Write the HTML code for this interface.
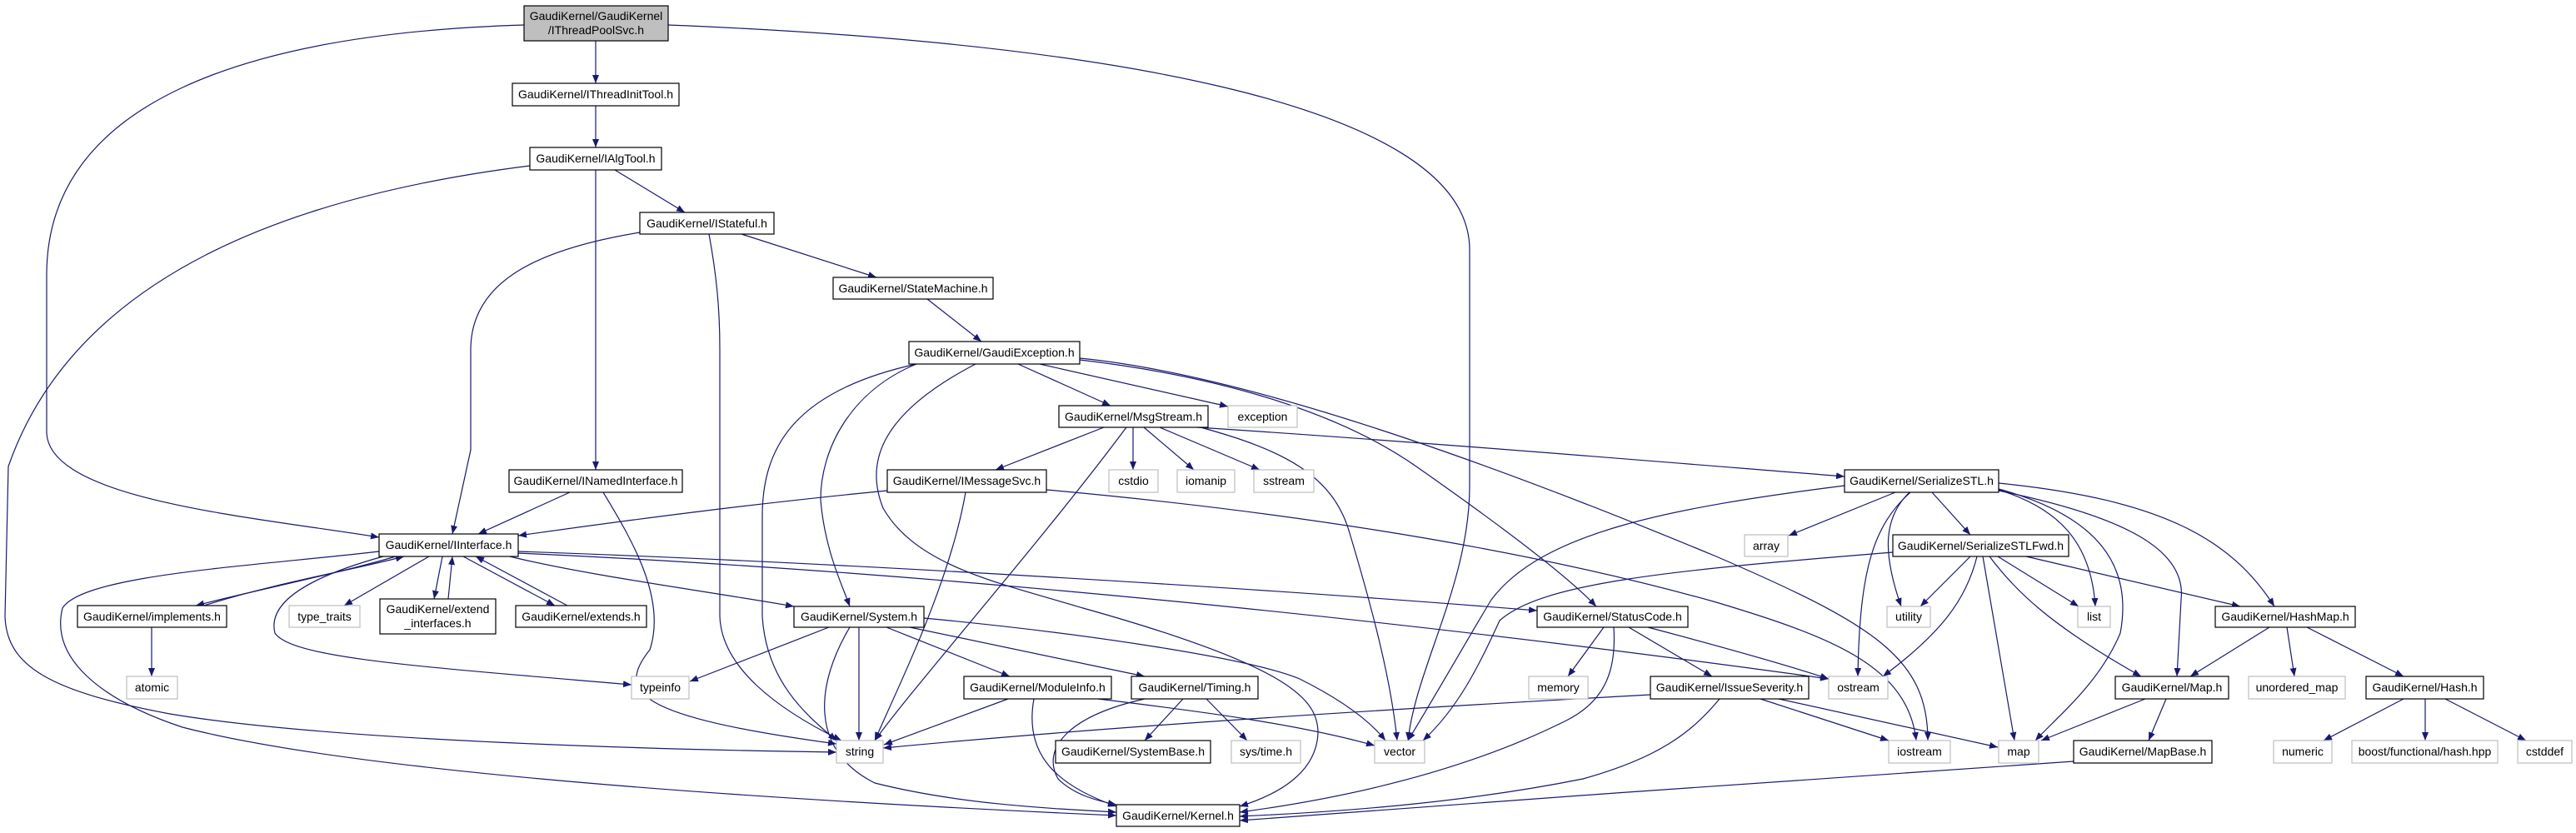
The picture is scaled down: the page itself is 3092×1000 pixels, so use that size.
<!DOCTYPE html>
<html><head><meta charset="utf-8"><style>
html,body{margin:0;padding:0;background:#fff}
svg{display:block}
text{font-family:"Liberation Sans",Arial,sans-serif;font-size:14px;fill:#000}
.e{fill:none;stroke:#191970;stroke-width:1.2;marker-end:url(#a)}
.n{fill:#fff;stroke:#000;stroke-width:1.2}
.g{fill:#fff;stroke:#bfbfbf;stroke-width:1.2}
</style></head><body>
<svg width="3092" height="1000" viewBox="0 0 3092 1000" xmlns="http://www.w3.org/2000/svg">
<defs><marker id="a" markerWidth="10" markerHeight="8" refX="10" refY="4" orient="auto" markerUnits="userSpaceOnUse"><path d="M0,0 L10,4 L0,8 z" fill="#191970"/></marker></defs>
<g>
<path class="e" d="M715,49 L715,100"/>
<path class="e" d="M629,30 C300,40 56,120 56,330 L56,520 C60,600 300,620 455,645"/>
<path class="e" d="M802,30 C1300,50 1764,120 1764,300 L1764,583 C1764,700 1700,800 1690,889"/>
<path class="e" d="M715,127 L715,177"/>
<path class="e" d="M738,204 L822,255"/>
<path class="e" d="M715,204 L715,564"/>
<path class="e" d="M636,199 C350,235 90,330 10,560 L6,740 C8,800 60,830 204,857 C400,890 800,900 1004,903"/>
<path class="e" d="M768,279 C640,300 565,340 565,420 L565,540 L543,641"/>
<path class="e" d="M851,281 C860,330 864,370 864,420 L864,740 C866,800 930,850 1010,889"/>
<path class="e" d="M890,281 L1052,333"/>
<path class="e" d="M1113,359 L1178,410"/>
<path class="e" d="M1222,437 L1333,487"/>
<path class="e" d="M1248,437 L1474,488"/>
<path class="e" d="M1100,437 C1020,470 985,540 985,600 C990,660 1010,700 1020,728"/>
<path class="e" d="M1100,437 C950,470 915,540 915,620 L915,740 C920,820 970,860 1004,889"/>
<path class="e" d="M1171,437 C1050,500 1040,560 1060,610 C1100,680 1200,700 1300,730 C1550,800 1582,840 1582,880 C1580,930 1530,955 1488,968"/>
<path class="e" d="M1296,432 C1450,450 1600,490 1700,560 C1800,630 1880,690 1916,728"/>
<path class="e" d="M1296,430 C1500,450 1800,560 2060,668 C2250,750 2314,790 2314,889"/>
<path class="e" d="M1325,513 L1195,564"/>
<path class="e" d="M1360,513 L1360,564"/>
<path class="e" d="M1373,513 L1433,564"/>
<path class="e" d="M1392,513 L1512,564"/>
<path class="e" d="M1352,513 C1250,650 1100,820 1050,889"/>
<path class="e" d="M1441,513 C1540,540 1600,570 1620,640 C1650,740 1670,820 1677,889"/>
<path class="e" d="M1437,513 C1700,530 2000,555 2214,572"/>
<path class="e" d="M1065,589 C900,605 750,625 622,643"/>
<path class="e" d="M1159,591 C1140,700 1080,820 1050,889"/>
<path class="e" d="M1256,588 C1500,610 1800,650 2060,723 C2200,765 2290,800 2300,889"/>
<path class="e" d="M475,668 C400,690 300,710 235,727"/>
<path class="e" d="M245,727 C330,700 420,685 485,668"/>
<path class="e" d="M460,668 C380,690 320,720 330,760 C350,790 500,800 758,822"/>
<path class="e" d="M515,668 L413,727"/>
<path class="e" d="M531,668 L521,719"/>
<path class="e" d="M538,719 L543,668"/>
<path class="e" d="M556,668 L666,727"/>
<path class="e" d="M681,727 L571,668"/>
<path class="e" d="M612,668 C700,690 850,710 953,728"/>
<path class="e" d="M622,662 C1000,675 1500,705 1845,733"/>
<path class="e" d="M622,664 C1200,690 1800,760 2195,815"/>
<path class="e" d="M455,662 C300,680 100,690 75,730 C60,790 120,840 219,873 C400,920 800,955 1340,979"/>
<path class="e" d="M182,753 L182,812"/>
<path class="e" d="M684,591 L574,641"/>
<path class="e" d="M724,591 C760,650 800,720 780,780 C740,830 760,860 1004,893"/>
<path class="e" d="M995,753 L828,818"/>
<path class="e" d="M1031,753 L1031,889"/>
<path class="e" d="M1020,753 C980,820 970,900 1050,940 C1150,965 1250,970 1340,975"/>
<path class="e" d="M1064,753 L1212,812"/>
<path class="e" d="M1092,753 L1374,812"/>
<path class="e" d="M1109,742 C1300,760 1500,790 1560,815 C1600,835 1640,860 1663,889"/>
<path class="e" d="M1210,839 L1061,894"/>
<path class="e" d="M1241,839 C1230,900 1260,940 1340,968"/>
<path class="e" d="M1318,839 C1450,855 1560,870 1650,895"/>
<path class="e" d="M1420,839 L1374,889"/>
<path class="e" d="M1448,839 L1497,889"/>
<path class="e" d="M1374,839 C1280,860 1250,900 1270,935 C1290,955 1320,962 1340,966"/>
<path class="e" d="M1981,834 C1600,855 1300,875 1060,898"/>
<path class="e" d="M1925,753 L1882,812"/>
<path class="e" d="M1955,753 L2055,812"/>
<path class="e" d="M1978,753 C2080,780 2150,800 2195,815"/>
<path class="e" d="M1937,753 C1940,800 1930,840 1880,865 C1750,930 1600,960 1488,975"/>
<path class="e" d="M2113,839 L2267,889"/>
<path class="e" d="M2135,839 L2398,897"/>
<path class="e" d="M2064,839 C2030,880 1990,910 1900,935 C1750,965 1600,975 1488,980"/>
<path class="e" d="M2275,591 L2147,643"/>
<path class="e" d="M2319,591 L2365,642"/>
<path class="e" d="M2292,591 C2262,620 2258,660 2282,728"/>
<path class="e" d="M2293,591 C2250,630 2232,680 2230,812"/>
<path class="e" d="M2214,583 C2000,610 1850,640 1790,720 C1760,770 1720,840 1690,889"/>
<path class="e" d="M2399,588 C2470,610 2510,650 2515,728"/>
<path class="e" d="M2399,587 C2520,620 2560,680 2545,760 C2520,820 2470,860 2443,889"/>
<path class="e" d="M2399,589 C2550,620 2625,660 2618,720 L2613,812"/>
<path class="e" d="M2399,580 C2600,600 2680,650 2730,728"/>
<path class="e" d="M2365,668 L2305,728"/>
<path class="e" d="M2398,668 L2495,728"/>
<path class="e" d="M2373,668 C2360,720 2330,760 2260,812"/>
<path class="e" d="M2380,668 L2418,889"/>
<path class="e" d="M2388,668 C2420,710 2460,750 2570,812"/>
<path class="e" d="M2432,668 L2689,728"/>
<path class="e" d="M2272,663 C2000,685 1850,700 1800,745 C1775,800 1750,850 1708,889"/>
<path class="e" d="M2724,753 L2629,812"/>
<path class="e" d="M2745,753 L2754,812"/>
<path class="e" d="M2769,753 L2885,812"/>
<path class="e" d="M2575,839 L2450,889"/>
<path class="e" d="M2600,839 L2579,889"/>
<path class="e" d="M2489,914 C2200,935 1800,960 1488,985"/>
<path class="e" d="M2885,839 L2789,889"/>
<path class="e" d="M2911,839 L2911,889"/>
<path class="e" d="M2935,839 L3032,889"/>
</g>
<g>
<rect x="629" y="7" width="173" height="42" fill="#bfbfbf" stroke="#000" stroke-width="1.2"/>
<text x="715.5" y="24" text-anchor="middle">GaudiKernel/GaudiKernel</text>
<text x="715.5" y="41" text-anchor="middle">/IThreadPoolSvc.h</text>
<rect class="n" x="615" y="100" width="200" height="27"/><text x="715" y="118" text-anchor="middle">GaudiKernel/IThreadInitTool.h</text>
<rect class="n" x="636" y="177" width="158" height="27"/><text x="715" y="195" text-anchor="middle">GaudiKernel/IAlgTool.h</text>
<rect class="n" x="768" y="255" width="161" height="26"/><text x="848.5" y="273" text-anchor="middle">GaudiKernel/IStateful.h</text>
<rect class="n" x="1000" y="333" width="192" height="26"/><text x="1096" y="351" text-anchor="middle">GaudiKernel/StateMachine.h</text>
<rect class="n" x="1091" y="410" width="205" height="27"/><text x="1193.5" y="428" text-anchor="middle">GaudiKernel/GaudiException.h</text>
<rect class="n" x="1271" y="487" width="179" height="26"/><text x="1360.5" y="505" text-anchor="middle">GaudiKernel/MsgStream.h</text>
<rect class="g" x="1474" y="487" width="83" height="26"/><text x="1515.5" y="505" text-anchor="middle">exception</text>
<rect class="n" x="611" y="564" width="208" height="27"/><text x="715" y="582" text-anchor="middle">GaudiKernel/INamedInterface.h</text>
<rect class="n" x="1065" y="564" width="191" height="27"/><text x="1160.5" y="582" text-anchor="middle">GaudiKernel/IMessageSvc.h</text>
<rect class="g" x="1331" y="564" width="59" height="27"/><text x="1360.5" y="582" text-anchor="middle">cstdio</text>
<rect class="g" x="1413" y="564" width="69" height="27"/><text x="1447.5" y="582" text-anchor="middle">iomanip</text>
<rect class="g" x="1505" y="564" width="72" height="27"/><text x="1541" y="582" text-anchor="middle">sstream</text>
<rect class="n" x="2214" y="564" width="185" height="27"/><text x="2306.5" y="582" text-anchor="middle">GaudiKernel/SerializeSTL.h</text>
<rect class="n" x="455" y="641" width="167" height="27"/><text x="538.5" y="659" text-anchor="middle">GaudiKernel/IInterface.h</text>
<rect class="g" x="2094" y="642" width="52" height="26"/><text x="2120" y="660" text-anchor="middle">array</text>
<rect class="n" x="2272" y="642" width="211" height="26"/><text x="2377.5" y="660" text-anchor="middle">GaudiKernel/SerializeSTLFwd.h</text>
<rect class="n" x="93" y="727" width="179" height="26"/><text x="182.5" y="745" text-anchor="middle">GaudiKernel/implements.h</text>
<rect class="g" x="347" y="727" width="85" height="26"/><text x="389.5" y="745" text-anchor="middle">type_traits</text>
<rect class="n" x="456" y="719" width="139" height="42"/><text x="525.5" y="736" text-anchor="middle">GaudiKernel/extend</text><text x="525.5" y="753" text-anchor="middle">_interfaces.h</text>
<rect class="n" x="619" y="727" width="157" height="26"/><text x="697.5" y="745" text-anchor="middle">GaudiKernel/extends.h</text>
<rect class="n" x="953" y="728" width="156" height="25"/><text x="1031" y="745" text-anchor="middle">GaudiKernel/System.h</text>
<rect class="n" x="1845" y="728" width="181" height="25"/><text x="1935.5" y="745" text-anchor="middle">GaudiKernel/StatusCode.h</text>
<rect class="g" x="2265" y="728" width="52" height="25"/><text x="2291" y="745" text-anchor="middle">utility</text>
<rect class="g" x="2494" y="728" width="39" height="25"/><text x="2513.5" y="745" text-anchor="middle">list</text>
<rect class="n" x="2659" y="728" width="168" height="25"/><text x="2743" y="745" text-anchor="middle">GaudiKernel/HashMap.h</text>
<rect class="g" x="152" y="812" width="61" height="27"/><text x="182.5" y="830" text-anchor="middle">atomic</text>
<rect class="g" x="758" y="812" width="69" height="27"/><text x="792.5" y="830" text-anchor="middle">typeinfo</text>
<rect class="n" x="1157" y="812" width="177" height="27"/><text x="1245.5" y="830" text-anchor="middle">GaudiKernel/ModuleInfo.h</text>
<rect class="n" x="1358" y="812" width="152" height="27"/><text x="1434" y="830" text-anchor="middle">GaudiKernel/Timing.h</text>
<rect class="g" x="1835" y="812" width="71" height="27"/><text x="1870.5" y="830" text-anchor="middle">memory</text>
<rect class="n" x="1981" y="812" width="190" height="27"/><text x="2076" y="830" text-anchor="middle">GaudiKernel/IssueSeverity.h</text>
<rect class="g" x="2195" y="812" width="71" height="27"/><text x="2230.5" y="830" text-anchor="middle">ostream</text>
<rect class="n" x="2539" y="812" width="136" height="27"/><text x="2607" y="830" text-anchor="middle">GaudiKernel/Map.h</text>
<rect class="g" x="2699" y="812" width="116" height="27"/><text x="2757" y="830" text-anchor="middle">unordered_map</text>
<rect class="n" x="2840" y="812" width="141" height="27"/><text x="2910.5" y="830" text-anchor="middle">GaudiKernel/Hash.h</text>
<rect class="g" x="1004" y="889" width="56" height="27"/><text x="1032" y="907" text-anchor="middle">string</text>
<rect class="n" x="1267" y="889" width="186" height="27"/><text x="1360" y="907" text-anchor="middle">GaudiKernel/SystemBase.h</text>
<rect class="g" x="1478" y="889" width="83" height="27"/><text x="1519.5" y="907" text-anchor="middle">sys/time.h</text>
<rect class="g" x="1650" y="889" width="60" height="27"/><text x="1680" y="907" text-anchor="middle">vector</text>
<rect class="g" x="2267" y="889" width="74" height="27"/><text x="2304" y="907" text-anchor="middle">iostream</text>
<rect class="g" x="2399" y="889" width="48" height="27"/><text x="2423" y="907" text-anchor="middle">map</text>
<rect class="n" x="2489" y="889" width="166" height="27"/><text x="2572" y="907" text-anchor="middle">GaudiKernel/MapBase.h</text>
<rect class="g" x="2729" y="889" width="70" height="27"/><text x="2764" y="907" text-anchor="middle">numeric</text>
<rect class="g" x="2823" y="889" width="175" height="27"/><text x="2910.5" y="907" text-anchor="middle">boost/functional/hash.hpp</text>
<rect class="g" x="3022" y="889" width="65" height="27"/><text x="3054.5" y="907" text-anchor="middle">cstddef</text>
<rect class="n" x="1340" y="966" width="148" height="26"/><text x="1414" y="984" text-anchor="middle">GaudiKernel/Kernel.h</text>
</g>
</svg>
</body></html>
